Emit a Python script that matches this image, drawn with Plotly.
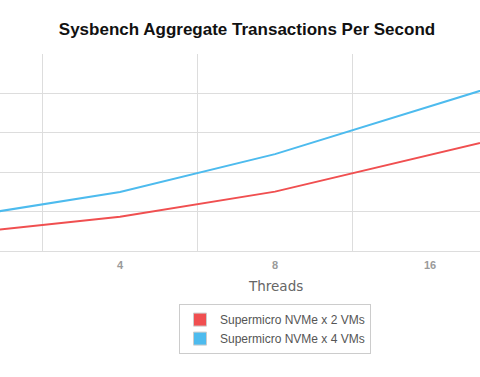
import plotly.graph_objects as go

threads = ["2", "4", "8", "16", "32"]
nvme_2vms = [450, 872, 1507, 2438, 3370]
nvme_4vms = [870, 1500, 2458, 3688, 4886]

series_names = ["Supermicro NVMe x 2 VMs", "Supermicro NVMe x 4 VMs"]
series_values = [nvme_2vms, nvme_4vms]
colors = ["#F04F50", "#4DBBEE"]

idx = list(range(len(threads)))

fig = go.Figure()
for name, vals, c in zip(series_names, series_values, colors):
    fig.add_trace(go.Scatter(x=idx, y=vals, mode="lines", name=name,
                             line=dict(color=c, width=2), showlegend=False,
                             hoverinfo="skip"))
    fig.add_trace(go.Scatter(x=[None], y=[None], mode="markers", name=name,
                             marker=dict(symbol="square", size=13, color=c,
                                         line=dict(color="#cccccc", width=1)),
                             showlegend=True))

grid = "#dddddd"
fig.update_layout(
    width=480, height=377,
    margin=dict(l=0, r=0, t=54, b=126),
    paper_bgcolor="white", plot_bgcolor="white",
    title=dict(text="<b>Sysbench Aggregate Transactions Per Second</b>",
               x=247 / 480, xanchor="center", y=1 - 29.5 / 377, yanchor="middle",
               font=dict(family="Liberation Sans, Arial, sans-serif", size=17, color="#111111")),
    xaxis=dict(range=[1 - 120 / 155, 1 + 360 / 155], tickmode="array",
               tickvals=idx, ticktext=threads, showgrid=False, zeroline=False,
               showline=True, linecolor=grid, linewidth=1,
               tickfont=dict(family="Liberation Sans, Arial, sans-serif", size=11,
                             color="#9a9a9a", weight="bold"),
               ticklabelstandoff=4,
               minor=dict(tickmode="linear", tick0=0.5, dtick=1, showgrid=True,
                          gridcolor=grid, gridwidth=1)),
    yaxis=dict(range=[0, 5000], dtick=1000, showticklabels=False, showgrid=True,
               gridcolor=grid, gridwidth=1, zeroline=False),
    legend=dict(x=275 / 480, xanchor="center", y=-(304 - 251) / 196.7, yanchor="top",
                bordercolor="#cccccc", borderwidth=1, bgcolor="white",
                font=dict(family="Liberation Sans, Arial, sans-serif", size=12, color="#555555"),
                tracegroupgap=0),
    annotations=[dict(text="Threads", xref="paper", yref="paper",
                      x=275 / 480, y=-(285.7 - 251) / 196.7, xanchor="center", yanchor="middle",
                      showarrow=False,
                      font=dict(family="DejaVu Sans, sans-serif", size=13.5, color="#666666"))],
)

fig.write_html("out.html", config={"displayModeBar": False},
               post_script="document.body.style.margin='0px';")
